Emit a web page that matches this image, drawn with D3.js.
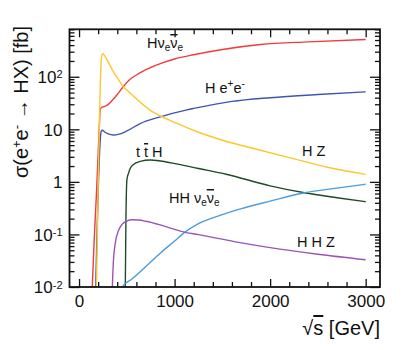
<!DOCTYPE html>
<html lang="en">
    <head>
        <meta charset="utf-8">
        <title>Higgs production cross sections</title>
        <script src="https://d3js.org/d3.v7.min.js"></script>
        <style type="text/css">
            body { margin: 0; background: #fff; }
            text { font-family: "Liberation Sans", Arial, Helvetica, sans-serif; fill: #111; }
            .tick line { stroke: #111; stroke-width: 1.3; }
            .curve { fill: none; stroke-width: 1.4; }
        </style>
    </head>
    <body>
        <script type="text/javascript">

            // cross sections: sqrt(s) in GeV, sigma in fb

            // H nu nubar (WW fusion)
            var wwE   = [130, 140, 160, 180, 200, 215, 222, 235, 260, 292, 350, 400, 460, 535, 600, 675, 750, 850, 1000, 1200, 1500, 1900, 2400, 3000];
            var wwSig = [0.004, 0.012, 0.09, 0.5, 3.5, 15, 24, 26, 27, 28.5, 36, 46, 64, 90, 108, 130, 150, 178, 218, 262, 330, 410, 462, 512];

            // H e+ e- (ZZ fusion)
            var zzE   = [165, 175, 190, 205, 220, 232, 245, 265, 300, 360, 420, 500, 640, 850, 1130, 1200, 1600, 2000, 2500, 3000];
            var zzSig = [0.004, 0.012, 0.15, 1.2, 5.5, 9.2, 9.6, 9.0, 8.3, 7.8, 8.1, 9.3, 12.9, 17.3, 23.5, 25, 34, 40, 46, 51.6];

            // H Z
            var hzE   = [175, 185, 200, 215, 228, 240, 250, 265, 290, 320, 360, 410, 460, 520, 600, 745, 850, 1000, 1250, 1500, 1900, 2200, 2600, 3000];
            var hzSig = [0.004, 0.02, 0.8, 20, 150, 265, 275, 255, 215, 170, 124, 90, 65, 52, 38, 23, 18, 13.5, 8.8, 6.2, 4.0, 2.9, 1.9, 1.39];

            // t tbar H
            var tthE   = [478, 484, 490, 501, 520, 535, 570, 640, 745, 850, 1020, 1250, 1540, 2000, 2360, 2700, 3000];
            var tthSig = [0.004, 0.01, 0.15, 1.1, 1.5, 1.8, 2.15, 2.45, 2.6, 2.5, 2.2, 1.8, 1.4, 0.84, 0.62, 0.5, 0.42];

            // HH nu nubar
            var hhvvE   = [400, 450, 550, 640, 750, 850, 1000, 1092, 1250, 1475, 1700, 2000, 2360, 2700, 3000];
            var hhvvSig = [0.006, 0.01, 0.014, 0.0195, 0.03, 0.044, 0.075, 0.105, 0.16, 0.23, 0.31, 0.43, 0.62, 0.76, 0.9];

            // HHZ
            var hhzE   = [342, 350, 360, 380, 414, 450, 500, 555, 620, 700, 850, 1000, 1092, 1250, 1400, 1700, 2000, 2500, 3000];
            var hhzSig = [0.003, 0.012, 0.032, 0.07, 0.12, 0.155, 0.18, 0.19, 0.188, 0.178, 0.152, 0.125, 0.112, 0.099, 0.088, 0.069, 0.056, 0.042, 0.033];

            // axis ticks
            var xMajor = [0, 1000, 2000, 3000];
            var xMinor = [200, 400, 600, 800, 1200, 1400, 1600, 1800, 2200, 2400, 2600, 2800];
            var yMajor = [0.01, 0.1, 1, 10, 100];
            var yTickBase = ["10", "10", "1", "10", "10"];
            var yTickExp  = ["-2", "-1", "", "", "2"];

            var series = [
                {e: wwE,   s: wwSig,   color: "#f43b3b"},
                {e: zzE,   s: zzSig,   color: "#3f55ad"},
                {e: hzE,   s: hzSig,   color: "#fcc72c"},
                {e: tthE,  s: tthSig,  color: "#1f4a26"},
                {e: hhvvE, s: hhvvSig, color: "#4c9ddd"},
                {e: hhzE,  s: hhzSig,  color: "#9a55b4"}
            ];

            var svgWidth = 414, svgHeight = 350;
            var plot = {left: 69.5, right: 380, top: 29.3, bottom: 287};

            var x = d3.scaleLinear().domain([-100, 3150]).range([plot.left, plot.right]);
            var y = d3.scaleLog().domain([0.01, 800]).range([plot.bottom, plot.top]);

            var svg = d3.select("body").append("svg")
                .attr("width", svgWidth)
                .attr("height", svgHeight);

            svg.append("defs").append("clipPath").attr("id", "clip")
                .append("rect")
                .attr("x", plot.left).attr("y", plot.top)
                .attr("width", plot.right - plot.left)
                .attr("height", plot.bottom - plot.top);

            // minor y ticks 2..9 per decade
            var yMinor = [];
            yMajor.forEach(function(d) {
                for (var k = 2; k <= 9; k++) if (d * k <= 800) yMinor.push(d * k);
            });

            function noDomain(g) { g.select(".domain").remove(); }

            // bottom axis
            svg.append("g")
                .attr("transform", "translate(0," + plot.bottom + ")")
                .call(d3.axisBottom(x).tickValues(xMinor).tickSize(-5).tickFormat(""))
                .call(noDomain);
            var xAxisG = svg.append("g")
                .attr("transform", "translate(0," + plot.bottom + ")")
                .call(d3.axisBottom(x).tickValues(xMajor).tickSize(-8).tickPadding(8).tickFormat(d3.format("d")))
                .call(noDomain);
            xAxisG.selectAll("text").style("font-size", "17px");

            // top axis (mirror)
            svg.append("g")
                .attr("transform", "translate(0," + plot.top + ")")
                .call(d3.axisTop(x).tickValues(xMinor).tickSize(-5).tickFormat(""))
                .call(noDomain);
            svg.append("g")
                .attr("transform", "translate(0," + plot.top + ")")
                .call(d3.axisTop(x).tickValues(xMajor).tickSize(-8).tickFormat(""))
                .call(noDomain);

            // left axis
            svg.append("g")
                .attr("transform", "translate(" + plot.left + ",0)")
                .call(d3.axisLeft(y).tickValues(yMinor).tickSize(-5).tickFormat(""))
                .call(noDomain);
            var yAxisG = svg.append("g")
                .attr("transform", "translate(" + plot.left + ",0)")
                .call(d3.axisLeft(y).tickValues(yMajor).tickSize(-10).tickPadding(7).tickFormat(""))
                .call(noDomain);
            yAxisG.selectAll(".tick text").each(function(d, i) {
                var t = d3.select(this).style("font-size", "17px").attr("dy", "0.35em");
                t.append("tspan").text(yTickBase[i]);
                if (yTickExp[i]) {
                    t.append("tspan").attr("dy", "-0.45em").style("font-size", "11px").text(yTickExp[i]);
                }
            });

            // right axis (mirror)
            svg.append("g")
                .attr("transform", "translate(" + plot.right + ",0)")
                .call(d3.axisRight(y).tickValues(yMinor).tickSize(-5).tickFormat(""))
                .call(noDomain);
            svg.append("g")
                .attr("transform", "translate(" + plot.right + ",0)")
                .call(d3.axisRight(y).tickValues(yMajor).tickSize(-10).tickFormat(""))
                .call(noDomain);

            // curves
            var line = d3.line()
                .x(function(d) { return x(d[0]); })
                .y(function(d) { return y(d[1]); })
                .curve(d3.curveMonotoneX);

            svg.append("g").attr("clip-path", "url(#clip)")
                .selectAll(".curve")
                .data(series)
                .enter().append("path")
                .attr("class", "curve")
                .attr("stroke", function(d) { return d.color; })
                .attr("d", function(d) { return line(d3.zip(d.e, d.s)); });

            // frame
            svg.append("rect")
                .attr("x", plot.left).attr("y", plot.top)
                .attr("width", plot.right - plot.left)
                .attr("height", plot.bottom - plot.top)
                .attr("fill", "none")
                .attr("stroke", "#111")
                .attr("stroke-width", 1.8);

            // process labels, anchored in data coordinates
            // each part: [text, style] where style is "", "sub", "sup", "bar"
            var labels = [
                {e: 711,  s: 352,   parts: [["H", ""], ["\u03bd", ""], ["e", "sub"], ["\u03bd", "bar"], ["e", "sub"]]},
                {e: 1318, s: 49,    parts: [["H e", ""], ["+", "sup"], ["e", ""], ["-", "sup"]]},
                {e: 596,  s: 2.97,  parts: [["t ", ""], ["t", "bar"], [" H", ""]]},
                {e: 2333, s: 3.1,   parts: [["H Z", ""]]},
                {e: 941,  s: 0.396, parts: [["HH \u03bd", ""], ["e", "sub"], ["\u03bd", "bar"], ["e", "sub"]]},
                {e: 2281, s: 0.0577, parts: [["H H Z", ""]]}
            ];

            labels.forEach(function(l) {
                var t = svg.append("text")
                    .attr("x", x(l.e))
                    .attr("y", y(l.s))
                    .style("font-size", "14.5px");
                var shift = 0;
                l.parts.forEach(function(p) {
                    var ts = t.append("tspan").text(p[0]);
                    if (p[1] === "sub") {
                        ts.attr("dy", 3 - shift).style("font-size", "10px");
                        shift = 3;
                    } else if (p[1] === "sup") {
                        ts.attr("dy", -6 - shift).style("font-size", "10px");
                        shift = -6;
                    } else {
                        ts.attr("dy", -shift);
                        shift = 0;
                        if (p[1] === "bar") ts.style("text-decoration", "overline");
                    }
                });
            });

            // y title
            var yTitle = svg.append("text")
                .attr("transform", "translate(28," + 26 + ") rotate(-90)")
                .style("text-anchor", "end")
                .style("font-size", "20px");
            yTitle.append("tspan").text("\u03c3(e");
            yTitle.append("tspan").attr("dy", -7).style("font-size", "13px").text("+");
            yTitle.append("tspan").attr("dy", 7).text("e");
            yTitle.append("tspan").attr("dy", -7).style("font-size", "13px").text("-");
            yTitle.append("tspan").attr("dy", 7).text(" \u2192 HX) [fb]");

            // x title
            var xTitle = svg.append("text")
                .attr("x", plot.right)
                .attr("y", 335)
                .style("text-anchor", "end")
                .style("font-size", "20px");
            xTitle.append("tspan").text("\u221a");
            xTitle.append("tspan").style("text-decoration", "overline").text("s");
            xTitle.append("tspan").text(" [GeV]");

        </script>
    </body>
</html>
